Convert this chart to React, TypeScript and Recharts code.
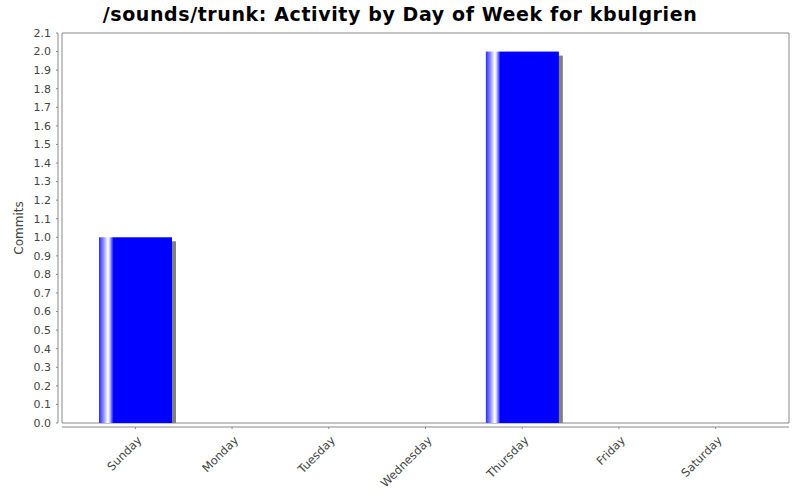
import { BarChart, Bar, XAxis, YAxis, ReferenceArea } from "recharts";

const days = ["Sunday", "Monday", "Tuesday", "Wednesday", "Thursday", "Friday", "Saturday"];
const commits = [1, 0, 0, 0, 2, 0, 0];
const yTicks = [0, 0.1, 0.2, 0.3, 0.4, 0.5, 0.6, 0.7, 0.8, 0.9, 1.0, 1.1, 1.2, 1.3, 1.4, 1.5, 1.6, 1.7, 1.8, 1.9, 2.0, 2.1];

const chartData = days.map((day, i) => ({ day, commits: commits[i] }));

const font = "'DejaVu Sans', sans-serif";
const axisGray = "#888888";
const lastIndex = days.length - 1;

const ShadowBar = (props: any) => {
  const { x, y, width, height } = props;
  if (!height || height <= 0) return null;
  return (
    <g>
      <rect x={x + 4} y={y + 4} width={width} height={Math.max(height - 4, 0)} fill="#808080" />
      <rect x={x} y={y} width={width} height={height} fill="url(#barGradient)" />
    </g>
  );
};

const DayTick = (props: any) => {
  const { x, y, payload } = props;
  const ax = x + 7;
  return (
    <text
      x={ax}
      y={y}
      transform={`rotate(-45, ${ax}, ${y})`}
      textAnchor="end"
      fill="#444444"
      fontSize={11.5}
      fontFamily={font}
    >
      {payload.value}
    </text>
  );
};

const App = () => {
  return (
    <div style={{ position: "absolute", left: 0, top: 0, width: 800, height: 500, background: "#fff" }}>
      <div
        style={{
          position: "absolute",
          top: 3,
          left: 0,
          width: 800,
          textAlign: "center",
          fontFamily: font,
          fontWeight: "bold",
          fontSize: 19,
          letterSpacing: 0.6,
          color: "#000",
        }}
      >
        /sounds/trunk: Activity by Day of Week for kbulgrien
      </div>
      <BarChart width={800} height={500} data={chartData} margin={{ top: 33, right: 11, bottom: 0, left: 0 }}>
        <defs>
          <linearGradient id="barGradient" x1="0" y1="0" x2="1" y2="0">
            <stop offset="0" stopColor="#2a2aff" />
            <stop offset="0.06" stopColor="#8a8aff" />
            <stop offset="0.12" stopColor="#ffffff" />
            <stop offset="0.14" stopColor="#e0e0ff" />
            <stop offset="0.2" stopColor="#0000ff" />
            <stop offset="1" stopColor="#0000ff" />
          </linearGradient>
        </defs>
        <XAxis
          dataKey="day"
          height={77}
          padding={{ left: 25, right: 25 }}
          interval={0}
          tickSize={2}
          tickMargin={16}
          axisLine={{ stroke: axisGray, transform: "translate(0,4)" }}
          tickLine={{ stroke: axisGray, transform: "translate(0,4)" }}
          tick={<DayTick />}
        />
        <XAxis xAxisId="frame" type="number" domain={[0, lastIndex]} allowDataOverflow hide />
        <YAxis
          width={62}
          domain={[0, 2.1]}
          ticks={yTicks}
          interval={0}
          tickSize={2}
          tickMargin={9}
          tickFormatter={(v: number) => v.toFixed(1)}
          axisLine={{ stroke: axisGray, transform: "translate(-4,0)" }}
          tickLine={{ stroke: axisGray, transform: "translate(-4,0)" }}
          tick={{ fill: "#444444", fontSize: 11, fontFamily: font }}
          label={{
            value: "Commits",
            angle: -90,
            position: "insideLeft",
            offset: 19,
            style: { textAnchor: "middle", fill: "#444444", fontSize: 12, fontFamily: font },
          }}
        />
        <ReferenceArea
          xAxisId="frame"
          x1={0}
          x2={lastIndex}
          y1={0}
          y2={2.1}
          fill="none"
          stroke={axisGray}
          strokeWidth={1}
        />
        <Bar dataKey="commits" barSize={73} shape={<ShadowBar />} isAnimationActive={false} />
      </BarChart>
    </div>
  );
};

export default App;
